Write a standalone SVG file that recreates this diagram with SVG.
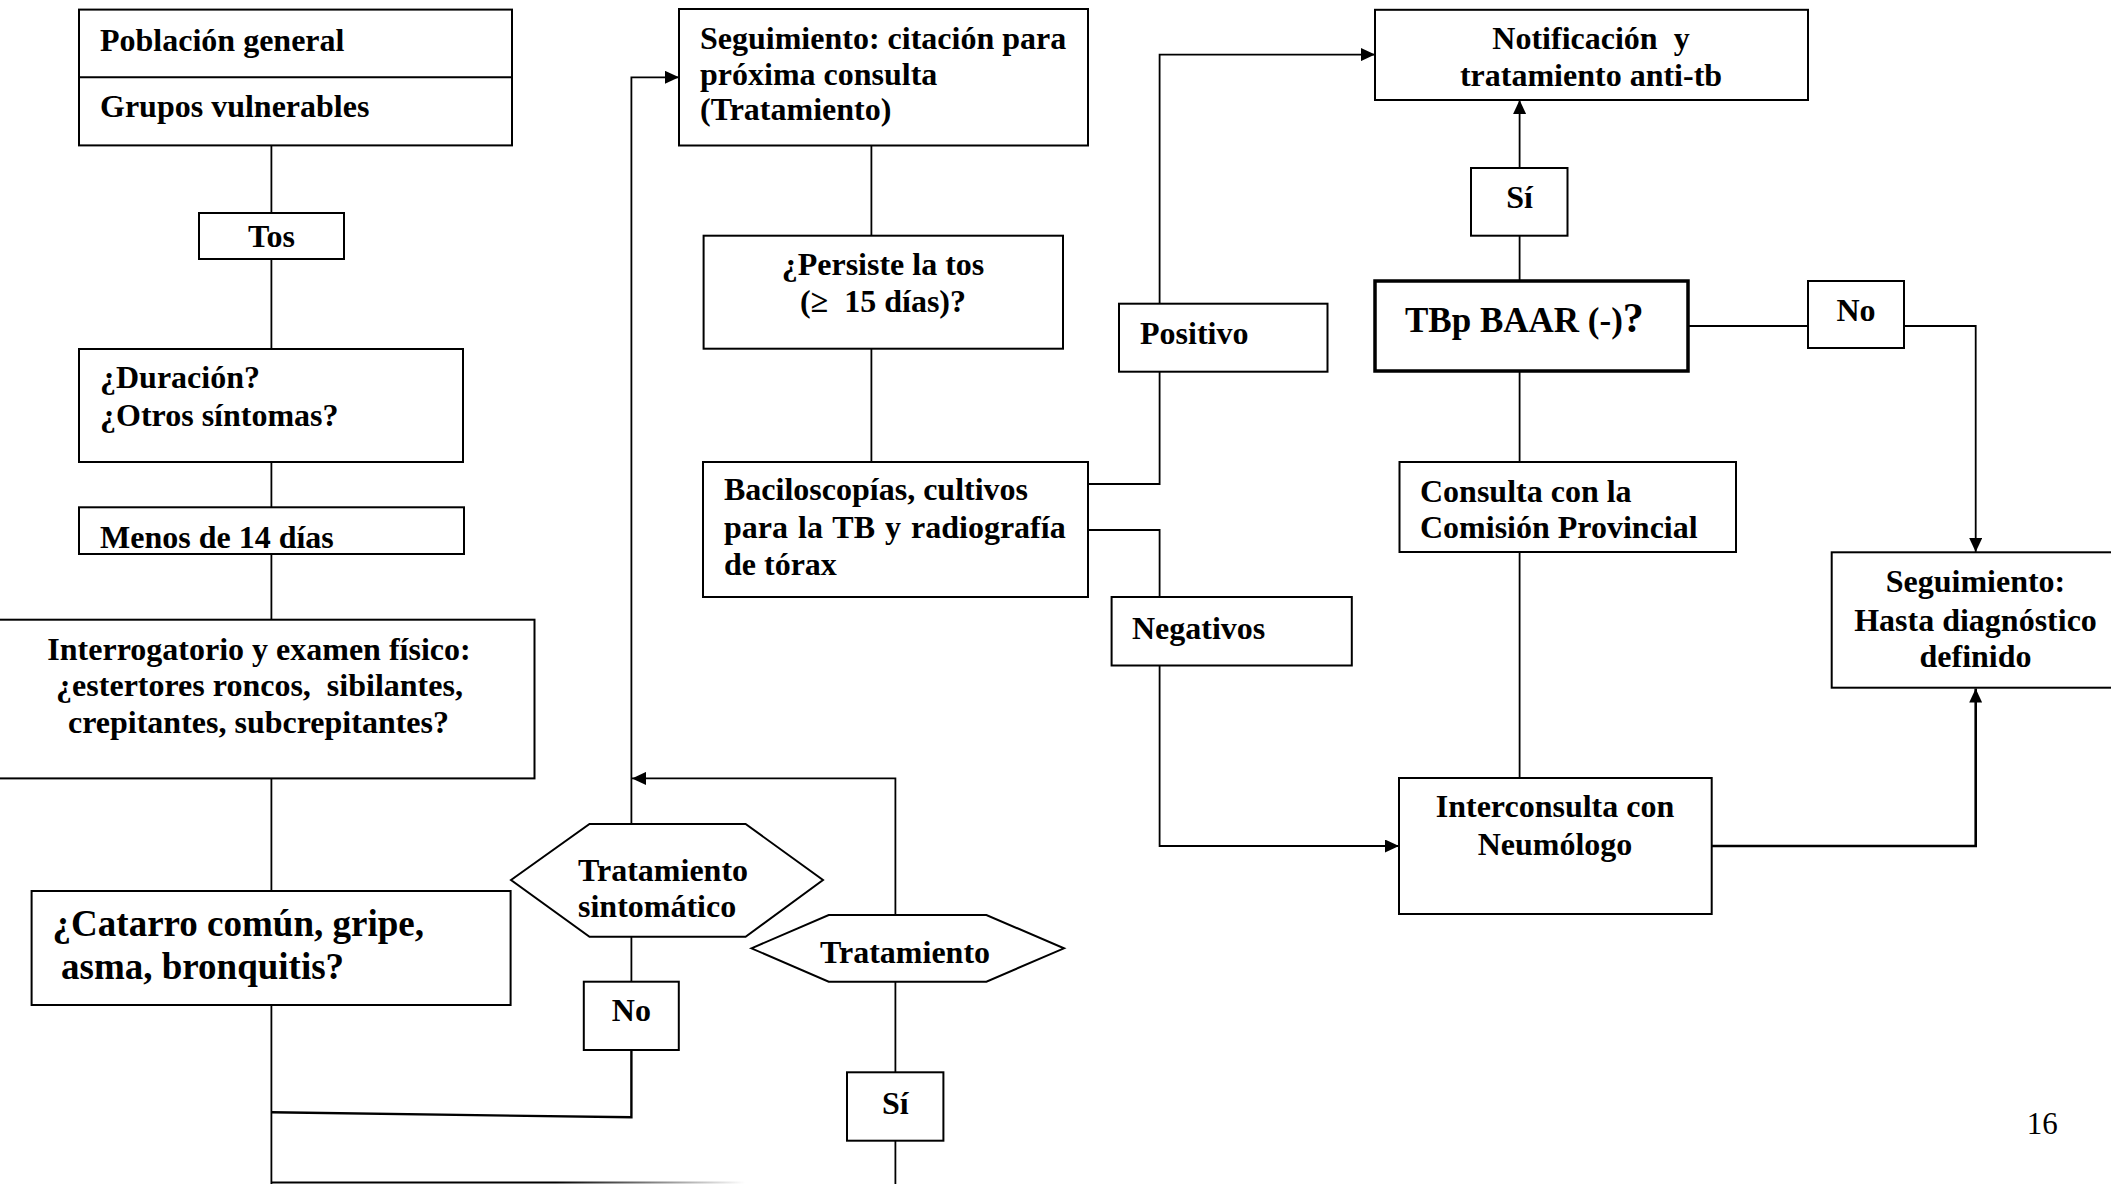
<svg xmlns="http://www.w3.org/2000/svg" width="2111" height="1184" viewBox="0 0 2111 1184">
  <style>
    .box { fill: #fff; stroke: #000; stroke-width: 2; }
    .heavy { stroke-width: 3.5; }
    .wire { fill: none; stroke: #000; stroke-width: 1.8; }
    .lbl { font-family: "Liberation Serif", "Times New Roman", serif; font-weight: bold; font-size: 32px; fill: #000; }
    .mid { text-anchor: middle; }
    .big { font-size: 37px; }
    .page { font-family: "Liberation Serif", "Times New Roman", serif; font-size: 31px; fill: #000; }
  </style>
  <defs>
    <marker id="arrow" viewBox="0 0 14 13" refX="14" refY="6.5" markerWidth="14" markerHeight="13" markerUnits="userSpaceOnUse" orient="auto">
      <path d="M0,0 L14,6.5 L0,13 z" fill="#000"/>
    </marker>
    <linearGradient id="fadeOut" gradientUnits="userSpaceOnUse" x1="271" y1="0" x2="745" y2="0">
      <stop offset="0" stop-color="#000"/>
      <stop offset="0.6" stop-color="#000"/>
      <stop offset="1" stop-color="#fff"/>
    </linearGradient>
  </defs>
  <rect x="0" y="0" width="2111" height="1184" fill="#fff"/>

  <!-- connectors -->
  <g id="connectors">
    <path class="wire" d="M271.4,145 V213"/>
    <path class="wire" d="M271.4,259 V349"/>
    <path class="wire" d="M271.4,462 V507"/>
    <path class="wire" d="M271.4,554 V620"/>
    <path class="wire" d="M271.4,778 V891"/>
    <path class="wire" d="M271.4,1005 V1184"/>
    <path class="wire" style="stroke-width:2.4" d="M271.4,1112.3 L631.4,1117.3 V1050"/>
    <path class="wire" style="stroke:url(#fadeOut)" d="M271.4,1182.5 H745"/>
    <path class="wire" d="M631.4,981.7 V936.7"/>
    <path class="wire" d="M631.4,824 V77.3 H679" marker-end="url(#arrow)"/>
    <path class="wire" d="M895.4,915 V778.4 H632" marker-end="url(#arrow)"/>
    <path class="wire" d="M895.4,981.7 V1072.3"/>
    <path class="wire" d="M895.4,1140.7 V1184"/>
    <path class="wire" d="M871.4,145 V235.7"/>
    <path class="wire" d="M871.4,348.7 V462"/>
    <path class="wire" d="M1088,484 H1159.6 V54.6 H1375" marker-end="url(#arrow)"/>
    <path class="wire" d="M1088,530 H1159.6 V597"/>
    <path class="wire" d="M1159.6,665.5 V846 H1399" marker-end="url(#arrow)"/>
    <path class="wire" style="stroke-width:2.6" d="M1711.7,846 H1975.7 V688.6" marker-end="url(#arrow)"/>
    <path class="wire" d="M1519.6,168 V100" marker-end="url(#arrow)"/>
    <path class="wire" d="M1519.6,281 V235.7"/>
    <path class="wire" d="M1519.6,371 V462"/>
    <path class="wire" d="M1519.6,552 V778"/>
    <path class="wire" d="M1689,326 H1808"/>
    <path class="wire" d="M1904,326 H1975.7 V552" marker-end="url(#arrow)"/>
  </g>

  <!-- left column -->
  <g id="n-poblacion">
    <rect class="box" x="79" y="9.6" width="433" height="135.8"/>
    <line x1="79" y1="77.3" x2="512" y2="77.3" stroke="#000" stroke-width="2"/>
    <text class="lbl" x="100" y="51">Población general</text>
    <text class="lbl" x="100" y="117">Grupos vulnerables</text>
  </g>
  <g id="n-tos">
    <rect class="box" x="199" y="213" width="145" height="46"/>
    <text class="lbl mid" x="271.5" y="247">Tos</text>
  </g>
  <g id="n-duracion">
    <rect class="box" x="79" y="349" width="384" height="113"/>
    <text class="lbl" x="100" y="388.4">¿Duración?</text>
    <text class="lbl" x="100" y="426">¿Otros síntomas?</text>
  </g>
  <g id="n-menos">
    <rect class="box" x="79" y="507.3" width="385" height="46.7"/>
    <text class="lbl" x="100" y="547.7">Menos de 14 días</text>
  </g>
  <g id="n-interrogatorio">
    <rect class="box" x="-2" y="619.7" width="536.5" height="158.7"/>
    <text class="lbl mid" x="259" y="660">Interrogatorio y examen físico:</text>
    <text class="lbl mid" x="259.5" y="696" xml:space="preserve">¿estertores roncos,  sibilantes,</text>
    <text class="lbl mid" x="258.5" y="733">crepitantes, subcrepitantes?</text>
  </g>
  <g id="n-catarro">
    <rect class="box" x="31.6" y="891" width="479" height="114"/>
    <text class="lbl big" x="52.6" y="936">¿Catarro común, gripe,</text>
    <text class="lbl big" x="61" y="978.7">asma, bronquitis?</text>
  </g>
  <g id="n-tratamiento-sintomatico">
    <polygon class="box" points="511,880 589.5,824 745.6,824 823,880 745.6,936.7 589.5,936.7"/>
    <text class="lbl" x="578" y="881">Tratamiento</text>
    <text class="lbl" x="578" y="917.3">sintomático</text>
  </g>
  <g id="n-no-sintomatico">
    <rect class="box" x="583.8" y="981.7" width="95" height="68.3"/>
    <text class="lbl mid" x="631.4" y="1021">No</text>
  </g>
  <g id="n-tratamiento">
    <polygon class="box" points="751.4,948.3 828.7,915 986.4,915 1064,948.3 986.4,981.7 828.7,981.7"/>
    <text class="lbl" x="820" y="962.7">Tratamiento</text>
  </g>
  <g id="n-si-tratamiento">
    <rect class="box" x="847" y="1072.3" width="96.4" height="68.4"/>
    <text class="lbl mid" x="895.4" y="1114">Sí</text>
  </g>

  <!-- middle column -->
  <g id="n-seguimiento">
    <rect class="box" x="679" y="9" width="409" height="136.5"/>
    <text class="lbl" x="700" y="49">Seguimiento: citación para</text>
    <text class="lbl" x="700" y="85">próxima consulta</text>
    <text class="lbl" x="700" y="120">(Tratamiento)</text>
  </g>
  <g id="n-persiste">
    <rect class="box" x="703.6" y="235.7" width="359.4" height="113"/>
    <text class="lbl mid" x="883" y="275">¿Persiste la tos</text>
    <text class="lbl mid" x="883" y="312" xml:space="preserve">(≥  15 días)?</text>
  </g>
  <g id="n-baciloscopias">
    <rect class="box" x="703" y="462" width="385" height="135"/>
    <text class="lbl" x="724" y="500">Baciloscopías, cultivos</text>
    <text class="lbl" x="724" y="538" style="word-spacing:2px">para la TB y radiografía</text>
    <text class="lbl" x="724" y="575">de tórax</text>
  </g>
  <g id="n-positivo">
    <rect class="box" x="1119" y="303.7" width="208.5" height="68"/>
    <text class="lbl" x="1140" y="344">Positivo</text>
  </g>
  <g id="n-negativos">
    <rect class="box" x="1111.6" y="597" width="240.2" height="68.5"/>
    <text class="lbl" x="1132" y="638.5">Negativos</text>
  </g>

  <!-- right column -->
  <g id="n-notificacion">
    <rect class="box" x="1375" y="9.8" width="433" height="90.2"/>
    <text class="lbl mid" x="1591" y="49" xml:space="preserve">Notificación  y</text>
    <text class="lbl mid" x="1591" y="85.7">tratamiento anti-tb</text>
  </g>
  <g id="n-si-tbp">
    <rect class="box" x="1471" y="168" width="96.5" height="67.7"/>
    <text class="lbl mid" x="1519.6" y="207.6">Sí</text>
  </g>
  <g id="n-tbp">
    <rect class="box heavy" x="1375" y="281" width="313" height="90"/>
    <text class="lbl" x="1405" y="331.7" style="font-size:35px">TBp BAAR (-)<tspan style="font-size:42px">?</tspan></text>
  </g>
  <g id="n-no-tbp">
    <rect class="box" x="1808" y="281" width="96" height="67"/>
    <text class="lbl mid" x="1856" y="321">No</text>
  </g>
  <g id="n-consulta">
    <rect class="box" x="1399.5" y="462" width="336.5" height="90"/>
    <text class="lbl" x="1420" y="502">Consulta con la</text>
    <text class="lbl" x="1420" y="538">Comisión Provincial</text>
  </g>
  <g id="n-seguimiento-diagnostico">
    <rect class="box" x="1831.7" y="552.3" width="290" height="135.4"/>
    <text class="lbl mid" x="1975.5" y="591.7">Seguimiento:</text>
    <text class="lbl mid" x="1975.5" y="630.7">Hasta diagnóstico</text>
    <text class="lbl mid" x="1975.5" y="667.3">definido</text>
  </g>
  <g id="n-interconsulta">
    <rect class="box" x="1399" y="778" width="312.7" height="136"/>
    <text class="lbl mid" x="1555" y="817">Interconsulta con</text>
    <text class="lbl mid" x="1555" y="855">Neumólogo</text>
  </g>

  <text class="page" x="2026.7" y="1134">16</text>
</svg>
